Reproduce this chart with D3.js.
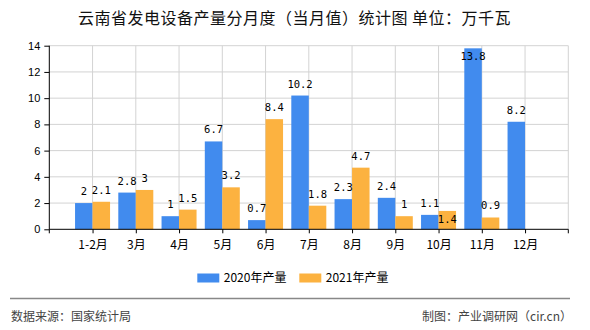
<!DOCTYPE html>
<html><head><meta charset="utf-8">
<script src="https://cdn.jsdelivr.net/npm/d3@7/dist/d3.min.js"></script>
<style>body{margin:0;background:#fff}svg{display:block}</style>
</head><body><svg id="c" width="590" height="330"></svg>
<script>
const categories = ["1-2月","3月","4月","5月","6月","7月","8月","9月","10月","11月","12月"];
const values2020 = [2, 2.8, 1, 6.7, 0.7, 10.2, 2.3, 2.4, 1.1, 13.8, 8.2];
const values2021 = [2.1, 3, 1.5, 3.2, 8.4, 1.8, 4.7, 1, 1.4, 0.9, null];
const yTicks = [0,2,4,6,8,10,12,14];
const seriesNames = ["2020年产量","2021年产量"];
const colors = ["#418BEE","#FCB240"];
const title = "云南省发电设备产量分月度（当月值）统计图 单位：万千瓦";
const sourceText = "数据来源：国家统计局";
const creditText = "制图：产业调研网（cir.cn）";

const svg = d3.select("#c");
const L = 49.3, R = 568.3, T = 45.7, B = 229.3;
const x = d3.scalePoint().domain(categories).range([L, R]).padding(1);
const y = d3.scaleLinear().domain([0,14]).range([B, T]);
const bw = 17.5;
const cjk = "'Noto Sans CJK SC', 'Noto Sans', sans-serif";

// title
svg.append("text").attr("x", 294.5).attr("y", 24).attr("text-anchor","middle")
  .attr("font-family", cjk).attr("font-size", 16).attr("letter-spacing", 0.5).attr("fill","#111").text(title);

// grid
const g = svg.append("g");
g.selectAll(".hg").data(yTicks.slice(1)).join("line")
  .attr("x1", L).attr("x2", R).attr("y1", d=>y(d)).attr("y2", d=>y(d))
  .attr("stroke","#d3d3d3").attr("stroke-width",1);
const vpos = categories.map(c=>x(c)).concat([R]);
g.selectAll(".vg").data(vpos).join("line")
  .attr("x1", d=>d).attr("x2", d=>d).attr("y1", T).attr("y2", B)
  .attr("stroke","#d3d3d3").attr("stroke-width",1);

// bars
const series = [values2020, values2021];
series.forEach((vals, si) => {
  svg.append("g").selectAll("rect").data(vals.map((v,i)=>({v, c:categories[i]})).filter(d=>d.v!=null))
    .join("rect")
    .attr("x", d => x(d.c) + (si===0 ? -bw : 0))
    .attr("width", bw)
    .attr("y", d => y(d.v))
    .attr("height", d => B - y(d.v))
    .attr("fill", colors[si]);
});

// axes
const yAxis = svg.append("g").attr("transform", `translate(${L},0)`)
  .call(d3.axisLeft(y).tickValues(yTicks).tickSize(5).tickPadding(4).tickFormat(d3.format("d")));
yAxis.select(".domain").attr("stroke","#000").attr("d", `M0,${T}V${B}`);
yAxis.selectAll(".tick line").attr("stroke","#000");
yAxis.selectAll("text").attr("font-family","'Liberation Sans', sans-serif").attr("font-size",11).attr("fill","#000");

const xAxis = svg.append("g").attr("transform", `translate(0,${B})`)
  .call(d3.axisBottom(x).tickSize(4).tickPadding(7));
xAxis.select(".domain").attr("stroke","#000").attr("d", `M${L},0H${R}`);
xAxis.selectAll(".tick line").attr("stroke","#000");
xAxis.selectAll("text").attr("font-family", cjk).attr("font-size",12).attr("fill","#000");
xAxis.append("line").attr("x1", L).attr("x2", L).attr("y1", 0).attr("y2", 4).attr("stroke","#000");
xAxis.append("line").attr("x1", R).attr("x2", R).attr("y1", 0).attr("y2", 4).attr("stroke","#000");

// value labels
const charW = 6.3;
const labels = [];
categories.forEach((c, i) => {
  const placed = [];
  series.forEach((vals, si) => {
    const v = vals[i];
    if (v == null) return;
    const cx = x(c) + (si===0 ? -bw/2 : bw/2);
    const top = y(v);
    const txt = String(v);
    const w = txt.length * charW;
    let cy = top - 12;
    const box = () => ({x0: cx - w/2 - 1, x1: cx + w/2 + 1, y0: cy - 5, y1: cy + 5});
    let b = box();
    const hit = placed.some(p => !(b.x1 < p.x0 || b.x0 > p.x1 || b.y1 < p.y0 || b.y0 > p.y1));
    if (cy - 5 < T || hit) { cy = top + 8; b = box(); }
    placed.push(b);
    labels.push({cx, cy, txt});
  });
});
svg.append("g").selectAll("text").data(labels).join("text")
  .attr("x", d=>d.cx).attr("y", d=>d.cy + 4).attr("text-anchor","middle")
  .attr("font-family","'DejaVu Sans Mono', monospace").attr("font-size",10.5).attr("fill","#000")
  .text(d=>d.txt);

// legend
const lg = svg.append("g");
const legX = [197.3, 299.3];
seriesNames.forEach((n, i) => {
  lg.append("rect").attr("x", legX[i]).attr("y", 273.5).attr("width", 22).attr("height", 9).attr("fill", colors[i]);
  lg.append("text").attr("x", legX[i] + 26.5).attr("y", 282).attr("font-family", cjk).attr("font-size", 12)
    .attr("fill","#000").text(n);
});

// footer
svg.append("line").attr("x1", 10).attr("x2", 570).attr("y1", 298.5).attr("y2", 298.5).attr("stroke","#888").attr("stroke-width",1.5);
svg.append("text").attr("x", 11).attr("y", 320.5).attr("font-family", cjk).attr("font-size", 12).attr("fill","#444").text(sourceText);
svg.append("text").attr("x", 572).attr("y", 320.5).attr("text-anchor","end").attr("font-family", cjk).attr("font-size", 12).attr("fill","#444").text(creditText);
</script></body></html>
